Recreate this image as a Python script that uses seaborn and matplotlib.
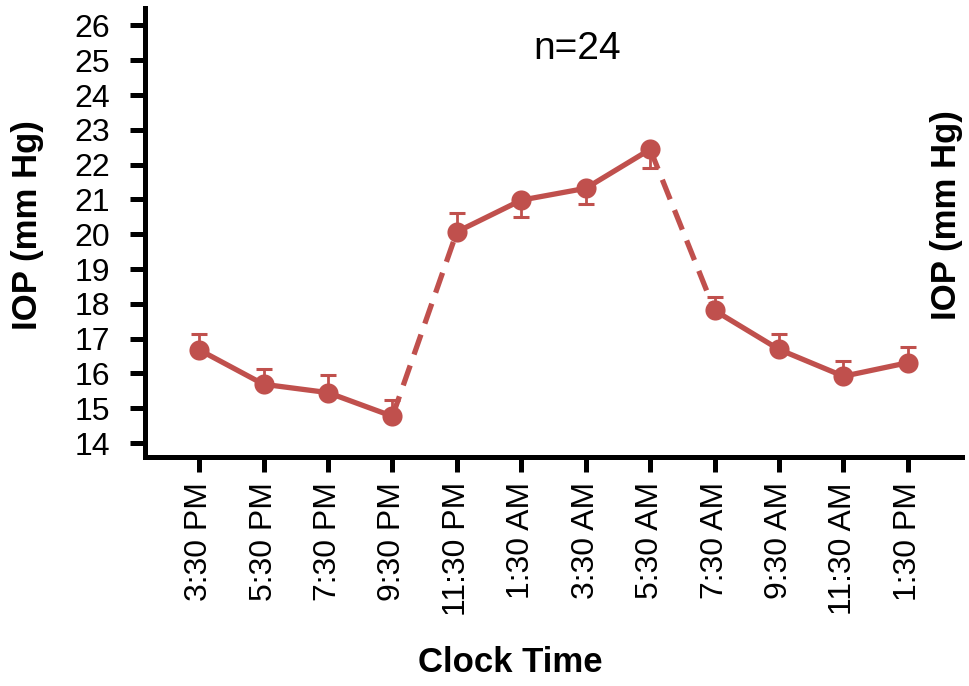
import numpy as np
import pandas as pd
import matplotlib
matplotlib.use('Agg')
import matplotlib.pyplot as plt
import seaborn as sns

# data
clock_times = ['3:30 PM', '5:30 PM', '7:30 PM', '9:30 PM', '11:30 PM', '1:30 AM',
               '3:30 AM', '5:30 AM', '7:30 AM', '9:30 AM', '11:30 AM', '1:30 PM']
iop_mean = [16.68, 15.69, 15.45, 14.77, 20.07, 20.98, 21.32, 22.44, 17.81, 16.69, 15.92, 16.31]
iop_err = [0.45, 0.44, 0.51, 0.46, 0.54, 0.47, 0.45, 0.54, 0.39, 0.44, 0.45, 0.45]
err_up = [True, True, True, True, True, False, False, False, True, True, True, True]
# 'solid' inside a period, 'dashed' for the light/dark transitions
segments = [(0, 3, 'solid'), (3, 4, 'dashed'), (4, 7, 'solid'), (7, 8, 'dashed'), (8, 11, 'solid')]
y_ticks = list(range(14, 27))

# setup
sns.set_style('ticks', {'axes.edgecolor': 'black', 'text.color': 'black',
                        'axes.labelcolor': 'black', 'xtick.color': 'black',
                        'ytick.color': 'black'})
plt.rcParams['font.family'] = ['Liberation Sans', 'DejaVu Sans']
color = '#C0504D'
lw = 3.8

df = pd.DataFrame({'pos': np.arange(len(clock_times)), 'time': clock_times,
                   'iop': iop_mean, 'err': iop_err, 'up': err_up})

fig = plt.figure(figsize=(9.7, 6.86), dpi=100)
ax = fig.add_axes([0.1495, 0.3338, 0.8423, 0.6545])

# lines
for a, b, style in segments:
    seg = df.iloc[a:b + 1]
    sns.lineplot(data=seg, x='pos', y='iop', ax=ax, color=color, linewidth=lw,
                 linestyle=style, zorder=2, legend=False)
    if style == 'dashed':
        ax.lines[-1].set_dashes((4, 2.2))

# one-sided error bars
lower = np.where(df['up'], 0, df['err'])
upper = np.where(df['up'], df['err'], 0)
ax.errorbar(df['pos'], df['iop'], yerr=[lower, upper], fmt='none', ecolor=color,
            elinewidth=2, capsize=6, capthick=2.2, zorder=2)

# markers
sns.scatterplot(data=df, x='pos', y='iop', ax=ax, color=color, s=210,
                edgecolor=color, linewidth=0, zorder=3, legend=False)

ax.set_xlim(-0.84, 11.84)
ax.set_ylim(13.6, 26.5)
ax.set_yticks(y_ticks)
ax.set_xticks(df['pos'])
ax.set_xticklabels(clock_times, rotation=90)

for side in ['top', 'right']:
    ax.spines[side].set_visible(False)
for side in ['left', 'bottom']:
    ax.spines[side].set_linewidth(3.6)
ax.tick_params(axis='both', width=3.6, length=11, labelsize=23, color='black',
               labelcolor='black')
ax.tick_params(axis='y', pad=14)
ax.tick_params(axis='x', pad=7)

ax.set_xlabel('')
ax.set_ylabel('')
fig.text(510 / 970, 1 - 662 / 686, 'Clock Time', fontsize=25, fontweight='bold',
         ha='center', va='center', color='black')
fig.text(28 / 970, 1 - 225 / 686, 'IOP (mm Hg)', fontsize=25, fontweight='bold',
         rotation=90, ha='center', va='center', color='black')
fig.text(947 / 970, 1 - 215 / 686, 'IOP (mm Hg)', fontsize=25, fontweight='bold',
         rotation=90, ha='center', va='center', color='black')
ax.text(577 / 970, 1 - 49 / 686, 'n=24', fontsize=28, ha='center', va='center',
        color='black', transform=fig.transFigure)

fig.savefig('out.png', dpi=100)
